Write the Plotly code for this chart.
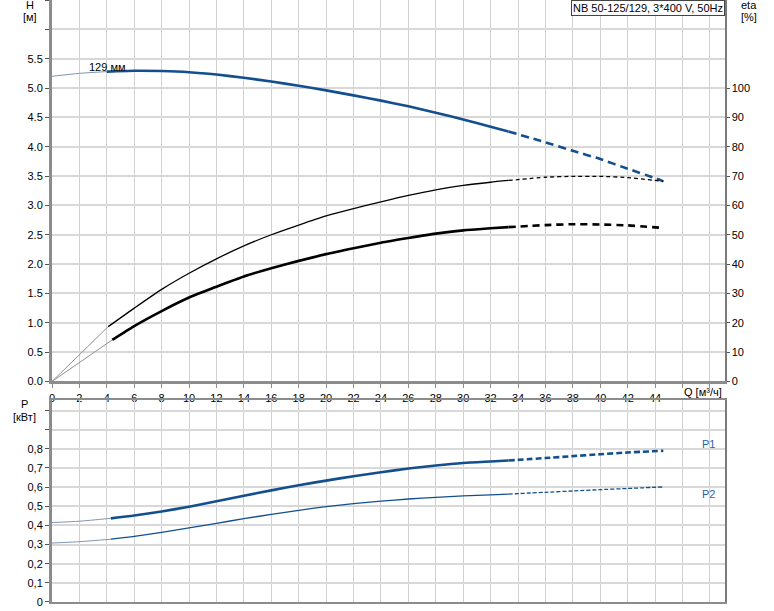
import plotly.graph_objects as go

# ---------------- data ----------------
Q_H = [0, 2, 4, 6, 8, 10, 12, 14, 16, 18, 20, 22, 24, 26, 28, 30, 32, 33.3, 36, 38, 40, 42, 44, 44.6]
H = [5.20, 5.25, 5.28, 5.295, 5.29, 5.27, 5.23, 5.175, 5.11, 5.04, 4.96, 4.875, 4.785, 4.69, 4.58,
     4.465, 4.34, 4.26, 4.075, 3.93, 3.79, 3.625, 3.465, 3.41]

Q_ETA1 = [0, 4.1, 6, 8, 10, 12, 14, 16, 18, 20, 22, 24, 26, 28, 30, 32, 33.3, 36, 38, 40, 42, 44.6]
ETA1 = [0, 18.7, 25.0, 31.4, 36.9, 41.8, 46.2, 50.0, 53.3, 56.4, 58.9, 61.2, 63.4, 65.3, 66.8,
        67.9, 68.5, 69.6, 69.9, 69.9, 69.5, 68.2]

Q_ETA2 = [0, 4.4, 6, 8, 10, 12, 14, 16, 18, 20, 22, 24, 26, 28, 30, 32, 33.3, 36, 38, 40, 42, 44.6]
ETA2 = [0, 14.2, 18.9, 24.0, 28.6, 32.3, 35.8, 38.6, 41.1, 43.4, 45.4, 47.3, 48.9, 50.4, 51.5,
        52.2, 52.6, 53.3, 53.6, 53.5, 53.2, 52.3]

Q_P = [0, 2, 4.3, 6, 8, 10, 12, 14, 16, 18, 20, 22, 24, 26, 28, 30, 32, 33.3, 36, 38, 40, 42, 44.6]
P1 = [0.415, 0.422, 0.437, 0.452, 0.473, 0.498, 0.526, 0.555, 0.583, 0.610, 0.634, 0.657, 0.678,
      0.697, 0.713, 0.726, 0.734, 0.739, 0.752, 0.762, 0.772, 0.781, 0.790]
P2 = [0.308, 0.315, 0.328, 0.343, 0.364, 0.387, 0.411, 0.435, 0.458, 0.479, 0.498, 0.514, 0.527,
      0.538, 0.547, 0.554, 0.560, 0.564, 0.573, 0.580, 0.587, 0.593, 0.601]

Q_TICKS = list(range(0, 49, 2))
Q_TICKTEXT = [str(v) for v in range(0, 45, 2)] + ["", ""]
H_TICKS = [i * 0.5 for i in range(14)]
H_TICKTEXT = [f"{v:.1f}" for v in H_TICKS[:12]] + ["", ""]
ETA_TICKS = list(range(0, 101, 10))
P_TICKS = [i / 10 for i in range(11)]
P_TICKTEXT = ["0"] + [f"0,{i}" for i in range(1, 9)] + ["", ""]

TITLE = "NB 50-125/129, 3*400 V, 50Hz"
DIAM = "129 мм"
Q_START = {"H": 4.0, "E1": 4.1, "E2": 4.4, "P": 4.3}
Q_DASH = 33.3

BLUE = "#134f8f"
BLACK = "#000000"
FONT = "Liberation Sans, Arial, sans-serif"

fig = go.Figure()


def add_curve(q, v, qs, color, thin_color, width, dash, xa, ya):
    seg1 = [(a, b) for a, b in zip(q, v) if a <= qs]
    seg2 = [(a, b) for a, b in zip(q, v) if qs <= a <= Q_DASH]
    seg3 = [(a, b) for a, b in zip(q, v) if a >= Q_DASH]
    for seg, w, d, c in ((seg1, 1.0, "solid", thin_color), (seg2, width, "solid", color),
                         (seg3, width, dash, color)):
        fig.add_trace(go.Scatter(
            x=[s[0] for s in seg], y=[s[1] for s in seg], mode="lines",
            line=dict(color=c, width=w, dash=d, shape="spline", smoothing=0.6),
            xaxis=xa, yaxis=ya, showlegend=False, hoverinfo="skip"))


add_curve(Q_H, H, Q_START["H"], BLUE, "#7f95b3", 2.6, "8px,5px", "x", "y")
add_curve(Q_ETA1, ETA1, Q_START["E1"], BLACK, "#909090", 1.3, "4px,3px", "x", "y2")
add_curve(Q_ETA2, ETA2, Q_START["E2"], BLACK, "#909090", 2.6, "7px,5px", "x", "y2")
add_curve(Q_P, P1, Q_START["P"], BLUE, "#7f95b3", 2.6, "6px,3px", "x2", "y3")
add_curve(Q_P, P2, Q_START["P"], BLUE, "#7f95b3", 1.3, "4px,2px", "x2", "y3")

GRIDX = "#d0d0d0"
GRIDY = "#d8d8d8"
AXC = "#8c8c8c"
tickfont = dict(family=FONT, size=11, color="#000")

TOP = [0.3663, 1.0]
BOT = [0.0, 0.3355]

fig.update_layout(
    width=774, height=611,
    margin=dict(l=52, r=49, t=0, b=9, autoexpand=False),
    paper_bgcolor="white", plot_bgcolor="white",
    font=dict(family=FONT, size=11, color="#000"),
    hovermode=False,
    xaxis=dict(domain=[0, 1], range=[0, 49.1], anchor="y", tickvals=Q_TICKS, ticktext=Q_TICKTEXT,
               showgrid=True, gridcolor=GRIDX, gridwidth=1, zeroline=False, automargin=False,
               showline=True, linecolor=AXC, linewidth=3, ticks="outside", ticklen=4,
               tickcolor=AXC, tickfont=tickfont),
    yaxis=dict(domain=TOP, range=[0, 6.5], anchor="x", tickvals=H_TICKS, ticktext=H_TICKTEXT,
               showgrid=True, gridcolor=GRIDY, gridwidth=2, zeroline=False, automargin=False,
               showline=True, linecolor=AXC, linewidth=3, ticks="outside", ticklen=4,
               tickcolor="#555", tickfont=tickfont),
    yaxis2=dict(overlaying="y", side="right", anchor="x", range=[0, 130], tickvals=ETA_TICKS,
                showgrid=False, zeroline=False, showline=True, linecolor="#7a7a7a", linewidth=1.5,
                automargin=False, ticks="outside", ticklen=3, tickcolor="#555", tickfont=tickfont),
    xaxis2=dict(domain=[0, 1], range=[0, 49.1], anchor="y3", tickvals=Q_TICKS, showticklabels=False,
                showgrid=True, gridcolor=GRIDX, gridwidth=1, zeroline=False, automargin=False,
                showline=True, linecolor=AXC, linewidth=2, mirror=True, ticks=""),
    yaxis3=dict(domain=BOT, range=[0, 1.055], anchor="x2", tickvals=P_TICKS, ticktext=P_TICKTEXT,
                showgrid=True, gridcolor=GRIDY, gridwidth=2, zeroline=False, automargin=False,
                showline=True, linecolor=AXC, linewidth=3, ticks="outside", ticklen=4,
                tickcolor="#555", tickfont=tickfont),
    yaxis4=dict(overlaying="y3", side="right", anchor="x2", range=[0, 1.055], showgrid=False,
                zeroline=False, showline=True, linecolor="#7a7a7a", linewidth=1.5, automargin=False,
                showticklabels=False, ticks=""),
)
fig.add_trace(go.Scatter(x=[None], y=[None], xaxis="x2", yaxis="y4", showlegend=False))


def py(p):
    return (602 - p) / 602


def px(p):
    return (p - 52) / 673


ann = [
    dict(text="H", x=px(30), y=py(5)), dict(text="[м]", x=px(30), y=py(17)),
    dict(text="eta", x=px(749), y=py(5)), dict(text="[%]", x=px(749), y=py(17)),
    dict(text="P", x=px(25), y=py(404)), dict(text="[кВт]", x=px(25), y=py(417)),
    dict(text="Q [м³/ч]", x=px(703), y=py(392)),
]
for a in ann:
    fig.add_annotation(xref="paper", yref="paper", xanchor="center", yanchor="middle",
                       showarrow=False, font=dict(family=FONT, size=11, color="#000"), **a)

fig.add_annotation(xref="paper", yref="paper", x=1, y=1, xanchor="right", yanchor="top",
                   text=TITLE, showarrow=False, bgcolor="white", bordercolor="#444",
                   borderwidth=1, borderpad=1, font=dict(family=FONT, size=11, color="#000"))
fig.add_annotation(xref="x", yref="y", x=2.55, y=5.35, xanchor="left", yanchor="middle",
                   text=DIAM, showarrow=False, font=dict(family=FONT, size=11, color="#000"))
fig.add_annotation(xref="x2", yref="y3", x=47.9, y=0.825, text="P1", showarrow=False,
                   font=dict(family=FONT, size=11, color="#2a62a8"))
fig.add_annotation(xref="x2", yref="y3", x=47.9, y=0.564, text="P2", showarrow=False,
                   font=dict(family=FONT, size=11, color="#2a62a8"))

fig.write_html("out.html", config={"displayModeBar": False, "staticPlot": True},
               post_script="document.body.style.margin='0';")
